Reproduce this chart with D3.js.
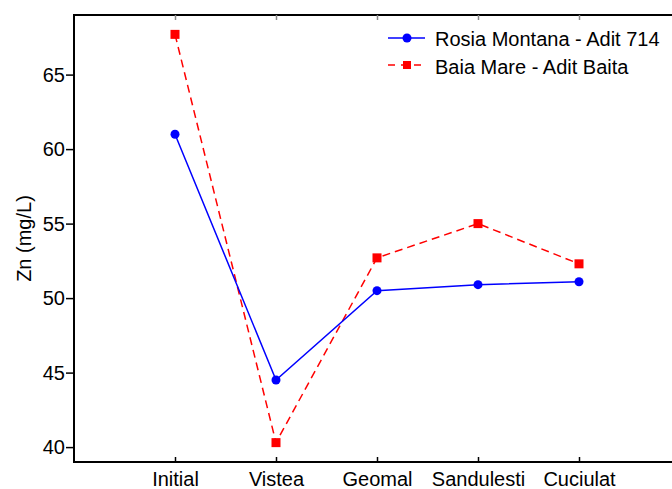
<!DOCTYPE html>
<html><head><meta charset="utf-8">
<script src="https://cdn.jsdelivr.net/npm/d3@7"></script>
<style>body{margin:0;background:#fff}svg{display:block}text{font-family:"Liberation Sans",Arial,sans-serif}</style>
</head><body><svg id="c" width="672" height="489"></svg>
<script>
const categories = ["Initial","Vistea","Geomal","Sandulesti","Cuciulat"];
const rosiaValues = [61.0, 44.5, 50.5, 50.9, 51.1];
const baiaValues = [67.7, 40.3, 52.7, 55.0, 52.3];
const seriesNames = ["Rosia Montana - Adit 714","Baia Mare - Adit Baita"];
const yTicks = [40,45,50,55,60,65];

const svg = d3.select("#c");
const L=74, T=15, B=462, R=680;
const FS = 20;
const x = d3.scaleLinear().domain([0,6]).range([L,R]);
const y = d3.scaleLinear().domain([39,69]).range([B,T]);

// frame
svg.append("path").attr("d",`M${R},${T}H${L}V${B}H${R}`).attr("fill","none").attr("stroke","#000").attr("stroke-width",2);

// y axis
const ya = svg.append("g").attr("transform",`translate(${L},0)`)
  .call(d3.axisLeft(y).tickValues(yTicks).tickSize(8).tickPadding(1));
ya.select(".domain").remove();
ya.selectAll("line").attr("stroke-width",1.5);
ya.selectAll("text").attr("font-size",FS).attr("fill","#000");

// x axis bottom
const xa = svg.append("g").attr("transform",`translate(0,${B})`)
  .call(d3.axisBottom(x).tickValues([1,2,3,4,5]).tickFormat(d=>categories[d-1]).tickSizeInner(-5).tickSizeOuter(0).tickPadding(10));
xa.select(".domain").remove();
xa.selectAll("line").attr("stroke-width",1.5);
xa.selectAll("text").attr("font-size",FS).attr("fill","#000");
// top ticks
const xt = svg.append("g").attr("transform",`translate(0,${T})`)
  .call(d3.axisTop(x).tickValues([1,2,3,4,5]).tickFormat("").tickSizeInner(-5).tickSizeOuter(0));
xt.select(".domain").remove();
xt.selectAll("line").attr("stroke-width",1.5).attr("stroke","#888");

// y label
svg.append("text").attr("transform",`translate(31,${(T+B)/2}) rotate(-90)`).attr("text-anchor","middle")
  .attr("font-size",FS).text("Zn (mg/L)");

const line = d3.line().x((d,i)=>x(i+1)).y(d=>y(d));
// Baia
svg.append("path").attr("d",line(baiaValues)).attr("fill","none").attr("stroke","#ff0000").attr("stroke-width",1.5).attr("stroke-dasharray","8,5");
svg.selectAll(".sq").data(baiaValues).enter().append("rect")
  .attr("x",(d,i)=>x(i+1)-4.5).attr("y",d=>y(d)-4.5).attr("width",9).attr("height",9).attr("fill","#ff0000");
// Rosia
svg.append("path").attr("d",line(rosiaValues)).attr("fill","none").attr("stroke","#0000ff").attr("stroke-width",1.5);
svg.selectAll(".ci").data(rosiaValues).enter().append("circle")
  .attr("cx",(d,i)=>x(i+1)).attr("cy",d=>y(d)).attr("r",4.5).attr("fill","#0000ff");

// legend
const lg = svg.append("g");
lg.append("line").attr("x1",388).attr("x2",425).attr("y1",38).attr("y2",38).attr("stroke","#0000ff").attr("stroke-width",1.5);
lg.append("circle").attr("cx",407).attr("cy",38).attr("r",4.5).attr("fill","#0000ff");
lg.append("line").attr("x1",388).attr("x2",425).attr("y1",65).attr("y2",65).attr("stroke","#ff0000").attr("stroke-width",1.5).attr("stroke-dasharray","7,6");
lg.append("rect").attr("x",403).attr("y",61).attr("width",8).attr("height",8).attr("fill","#ff0000");
lg.append("text").attr("x",435).attr("y",46).attr("font-size",FS).text(seriesNames[0]);
lg.append("text").attr("x",435).attr("y",74).attr("font-size",FS).text(seriesNames[1]);
</script></body></html>
